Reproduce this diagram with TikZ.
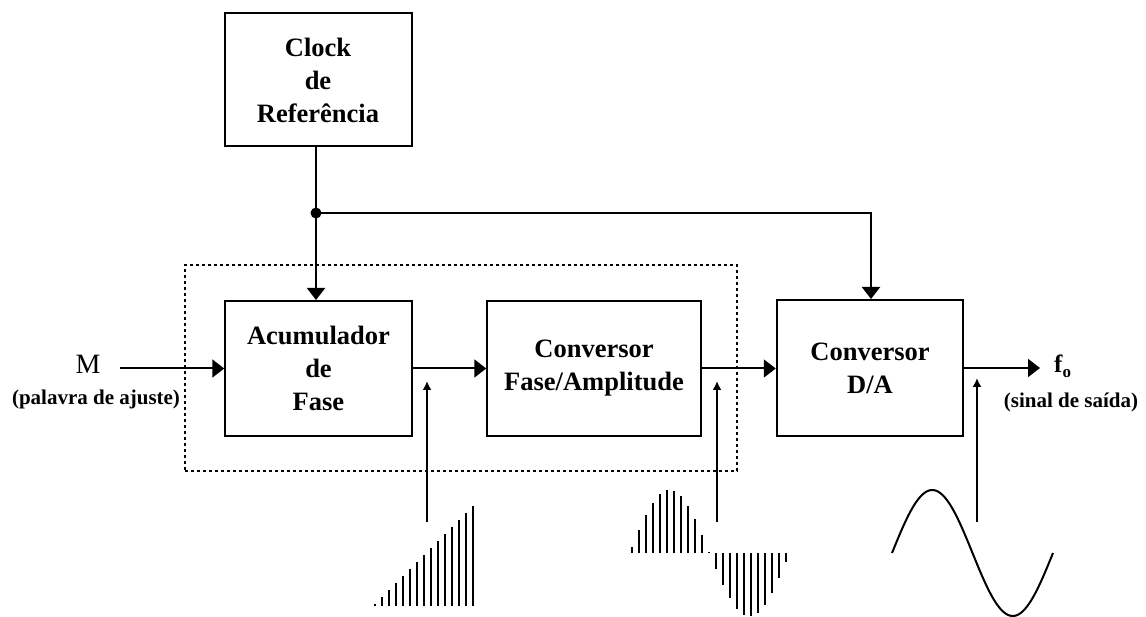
\documentclass[tikz,border=0pt]{standalone}
\usepackage{fontspec}
\setmainfont{Liberation Serif}
\usetikzlibrary{arrows.meta}
\newcommand\blocktext{\fontsize{26.5}{33}\selectfont\bfseries}
\newcommand\smalltext{\fontsize{21}{25}\selectfont\bfseries}
\begin{document}
\begin{tikzpicture}[x=1pt,y=-1pt,
  block/.style={draw,line width=2pt,align=center,inner sep=0pt,font=\blocktext},
  frame/.style={draw,line width=2pt,dash pattern=on 3pt off 3pt,inner sep=0pt},
  fat/.style={line width=2pt,-{Triangle[length=12pt,width=18pt]}},
  tick/.style={line width=2pt,-{Latex[length=9pt,width=9pt]}},
  link/.style={line width=2pt},
  wave/.style={line width=2pt}]
\useasboundingbox (0,0) rectangle (1146,617);

% processing blocks
\node[block,minimum width=187pt,minimum height=133pt] (clock) at (318,80)
  {Clock\\de\\Referência};
\node[frame,minimum width=552pt,minimum height=206pt] (core) at (461,368) {};
\node[block,minimum width=186.5pt,minimum height=135pt] (acc) at (318.5,368.5)
  {Acumulador\\de\\Fase};
\node[block,minimum width=213.5pt,minimum height=135pt] (conv) at (594,368.5)
  {Conversor\\Fase/Amplitude};
\node[block,minimum width=186.5pt,minimum height=136pt] (dac) at (870,368)
  {Conversor\\D/A};

% input and output labels
\node[anchor=base,font=\fontsize{28}{30}\selectfont,inner sep=0pt] (m) at (88,374) {M};
\node[anchor=base,font=\smalltext,inner sep=0pt] (mlab) at (96,405) {(palavra de ajuste)};
\node[anchor=base west,font=\fontsize{25}{28}\selectfont\bfseries,inner sep=0pt] (fo) at (1054,373)
  {f\raisebox{-5pt}{\fontsize{17}{18}\selectfont\bfseries o}};
\node[anchor=base,font=\smalltext,inner sep=0pt] (folab) at (1071,407) {(sinal de saída)};

% clock distribution
\coordinate (j) at (316,213);
\coordinate (k) at (871,213);
\draw[link] (clock.south -| j) -- (j);
\draw[fat] (j) -- (j |- acc.north);
\draw[fat] (j) -- (k) -- (k |- dac.north);
\fill (j) circle (5.5);

% signal path
\coordinate (min) at (120,368.5);
\coordinate (out) at (1040,368);
\draw[fat] (min) -- (acc.west);
\draw[fat] (acc.east) -- (conv.west);
\draw[fat] (conv.east) -- (conv.east -| dac.west);
\draw[fat] (dac.east) -- (out);

% pointers to the waveforms
\coordinate (p1a) at (427,522); \coordinate (p1b) at (427,381);
\coordinate (p2a) at (717,522); \coordinate (p2b) at (717,381);
\coordinate (p3a) at (977,522); \coordinate (p3b) at (977,378);
\draw[tick] (p1a) -- (p1b);
\draw[tick] (p2a) -- (p2b);
\draw[tick] (p3a) -- (p3b);

% phase ramp samples
\foreach \k in {0,...,14}
  \draw[wave] ({375+7*\k},606) -- ++(0,{-(2+7*\k)});

% sampled sine
\foreach \k in {0,...,22} {
  \pgfmathsetmacro\xx{632+7*\k}
  \pgfmathsetmacro\yy{63*sin((\xx-629.5)*2.25)}
  \draw[wave] (\xx,553) -- (\xx,{553-\yy});
}

% reconstructed sine
\draw[wave] plot[domain=0:161,samples=90,smooth] ({892+\x},{553-63*sin(2.23602*\x)});
\end{tikzpicture}
\end{document}
